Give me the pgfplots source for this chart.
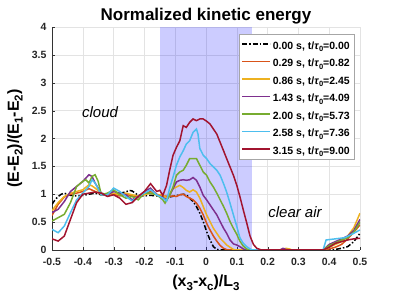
\documentclass[border=0pt]{standalone}
\usepackage{pgfplots}
\pgfplotsset{compat=1.18}
\usepackage{fontspec}
\setmainfont{Liberation Sans}
\definecolor{c1}{rgb}{0.85,0.325,0.098}
\definecolor{c2}{rgb}{0.929,0.694,0.125}
\definecolor{c3}{rgb}{0.494,0.184,0.556}
\definecolor{c4}{rgb}{0.466,0.674,0.188}
\definecolor{c5}{rgb}{0.301,0.745,0.933}
\definecolor{c6}{rgb}{0.635,0.078,0.184}
\newcommand\sub[1]{\raisebox{-0.45ex}{\fontsize{0.72em}{1em}\selectfont #1}}
\newcommand\ls{\rule[-5.5pt]{0pt}{17.5pt}}
\begin{document}
\begin{tikzpicture}
\useasboundingbox (-52pt,-49pt) rectangle (347pt,250pt);
\begin{axis}[
  at={(0pt,0pt)}, anchor=south west,
  scale only axis, width=308pt, height=223pt,
  xmin=-0.5, xmax=0.5, ymin=0, ymax=4,
  xtick={-0.5,-0.4,-0.3,-0.2,-0.1,0,0.1,0.2,0.3,0.4,0.5},
  xticklabels={-0.5,-0.4,-0.3,-0.2,-0.1,0,0.1,0.2,0.3,0.4,0.5},
  ytick={0,0.5,1,1.5,2,2.5,3,3.5,4},
  yticklabels={0,0.5,1,1.5,2,2.5,3,3.5,4},
  axis lines=left, axis line style={-, black!80},
  tick align=inside, major tick length=3pt, tick style={black!80},
  grid=major, grid style={gray!22, line width=0.4pt},
  tick label style={font=\bfseries\fontsize{10.5}{11}\selectfont, text=black!85},
  xticklabel style={yshift=-4.5pt},
  yticklabel style={xshift=-2pt},
  /pgf/number format/assume math mode=true,
  title={Normalized kinetic energy},
  title style={font=\bfseries\fontsize{17}{19}\selectfont, at={(0.5,1)}, anchor=base, yshift=0pt},
  xlabel={(x\sub{3}-x\sub{c})/L\sub{3}},
  ylabel={(E-E\sub{2})/(E\sub{1}-E\sub{2})},
  xlabel style={font=\bfseries\fontsize{16}{18}\selectfont, at={(axis description cs:0.5,-0.148)}, anchor=center},
  ylabel style={font=\bfseries\fontsize{16}{18}\selectfont, at={(axis description cs:-0.12,0.5)}, anchor=center},
  legend style={at={(rel axis cs:0.9805,0.9686)}, anchor=north east,
    font=\bfseries\fontsize{10.5}{11}\selectfont, draw=gray!70, fill=white,
    row sep=0pt, inner xsep=2pt, inner ysep=1pt,
    cells={anchor=west}},
  legend image code/.code={\draw[#1] (0pt,0pt) -- (28pt,0pt);},
  every axis plot/.append style={line width=1.5pt},
]
\fill[blue, fill opacity=0.2] (axis cs:-0.15,0) rectangle (axis cs:0.15,4);

\addplot[black, dash pattern=on 5pt off 2pt on 1.5pt off 2pt] coordinates {
(-0.5,0.82)(-0.49,0.9)(-0.48,0.96)(-0.47,1.0)(-0.46,1.02)(-0.45,1.0)(-0.44,0.98)(-0.42,0.97)(-0.40,0.98)(-0.38,1.0)(-0.36,1.02)(-0.34,0.99)(-0.32,0.98)(-0.30,1.0)(-0.28,1.02)(-0.26,1.04)(-0.25,1.07)(-0.24,1.06)(-0.22,0.98)(-0.20,0.97)(-0.18,0.98)(-0.16,0.97)(-0.14,0.96)(-0.12,0.95)(-0.10,0.97)(-0.085,0.99)(-0.074,1.0)(-0.064,0.99)(-0.053,0.93)(-0.042,0.87)(-0.031,0.78)(-0.02,0.66)(-0.009,0.51)(0.002,0.33)(0.013,0.18)(0.024,0.06)(0.035,0.01)(0.05,0)(0.1,0)(0.2,0)(0.3,0)(0.4,0)(0.42,0.01)(0.44,0.03)(0.46,0.06)(0.48,0.15)(0.5,0.3)};
\addlegendentry{\ls 0.00 s, t/\textit{τ}\sub{0}=0.00}

\addplot[c1] coordinates {
(-0.5,0.62)(-0.49,0.72)(-0.48,0.82)(-0.46,0.95)(-0.44,1.0)(-0.42,1.02)(-0.40,1.05)(-0.38,1.1)(-0.36,1.05)(-0.34,1.0)(-0.32,0.98)(-0.30,1.0)(-0.28,0.97)(-0.26,1.0)(-0.24,0.97)(-0.22,0.95)(-0.20,1.0)(-0.18,1.05)(-0.16,1.0)(-0.14,0.97)(-0.12,0.96)(-0.107,0.97)(-0.096,0.96)(-0.085,0.99)(-0.074,1.0)(-0.064,0.96)(-0.053,0.93)(-0.042,0.9)(-0.031,0.84)(-0.02,0.75)(-0.009,0.63)(0.002,0.48)(0.013,0.36)(0.024,0.25)(0.035,0.16)(0.046,0.08)(0.057,0.03)(0.07,0)(0.2,0)(0.3,0)(0.38,0)(0.40,0.02)(0.42,0.05)(0.44,0.1)(0.46,0.2)(0.48,0.32)(0.5,0.45)};
\addlegendentry{\ls 0.29 s, t/\textit{τ}\sub{0}=0.82}

\addplot[c2] coordinates {
(-0.5,0.7)(-0.49,0.78)(-0.48,0.85)(-0.46,0.96)(-0.44,1.02)(-0.42,1.05)(-0.40,1.08)(-0.38,1.17)(-0.37,1.15)(-0.36,1.11)(-0.34,1.02)(-0.32,0.99)(-0.30,1.02)(-0.28,0.99)(-0.26,1.02)(-0.24,0.99)(-0.22,0.97)(-0.20,0.99)(-0.18,1.02)(-0.16,0.99)(-0.14,0.99)(-0.128,0.93)(-0.118,1.01)(-0.107,1.1)(-0.096,1.13)(-0.085,1.16)(-0.074,1.12)(-0.064,1.07)(-0.053,1.04)(-0.042,1.08)(-0.031,1.04)(-0.02,0.93)(-0.009,0.78)(0.002,0.63)(0.013,0.51)(0.024,0.39)(0.035,0.3)(0.046,0.21)(0.057,0.15)(0.067,0.09)(0.078,0.05)(0.089,0.01)(0.1,0)(0.24,0)(0.26,0.03)(0.27,0.02)(0.28,0)(0.38,0)(0.40,0.05)(0.42,0.1)(0.44,0.15)(0.46,0.25)(0.48,0.4)(0.5,0.66)};
\addlegendentry{\ls 0.86 s, t/\textit{τ}\sub{0}=2.45}

\addplot[c3] coordinates {
(-0.5,0.67)(-0.48,0.73)(-0.46,0.87)(-0.44,1.05)(-0.42,1.14)(-0.40,1.23)(-0.38,1.35)(-0.37,1.32)(-0.36,1.2)(-0.34,1.02)(-0.32,0.99)(-0.30,1.05)(-0.28,1.02)(-0.26,0.99)(-0.24,0.9)(-0.22,0.96)(-0.20,1.05)(-0.18,1.11)(-0.16,0.99)(-0.14,0.94)(-0.128,0.9)(-0.118,0.98)(-0.107,1.1)(-0.096,1.22)(-0.085,1.25)(-0.074,1.26)(-0.064,1.25)(-0.053,1.26)(-0.042,1.3)(-0.031,1.25)(-0.02,1.13)(-0.009,0.98)(0.002,0.9)(0.013,0.81)(0.024,0.72)(0.035,0.63)(0.046,0.51)(0.057,0.39)(0.067,0.3)(0.078,0.18)(0.089,0.11)(0.1,0.09)(0.11,0.06)(0.121,0.02)(0.13,0)(0.24,0)(0.25,0.03)(0.26,0.01)(0.27,0)(0.38,0)(0.40,0.1)(0.42,0.15)(0.44,0.2)(0.46,0.25)(0.48,0.35)(0.5,0.55)};
\addlegendentry{\ls 1.43 s, t/\textit{τ}\sub{0}=4.09}

\addplot[c4] coordinates {
(-0.5,0.52)(-0.48,0.58)(-0.46,0.64)(-0.44,0.85)(-0.42,1.14)(-0.40,1.23)(-0.39,1.26)(-0.38,1.2)(-0.37,1.32)(-0.36,1.35)(-0.35,1.23)(-0.34,0.99)(-0.32,1.02)(-0.30,1.08)(-0.28,0.99)(-0.26,0.93)(-0.24,0.96)(-0.22,0.9)(-0.20,1.02)(-0.18,1.02)(-0.16,0.99)(-0.14,0.9)(-0.133,0.84)(-0.118,0.98)(-0.107,1.13)(-0.096,1.34)(-0.085,1.4)(-0.074,1.43)(-0.064,1.52)(-0.053,1.64)(-0.042,1.64)(-0.031,1.64)(-0.02,1.52)(-0.009,1.4)(0.002,1.34)(0.013,1.22)(0.024,1.13)(0.035,1.02)(0.046,0.9)(0.057,0.78)(0.067,0.66)(0.078,0.51)(0.089,0.39)(0.1,0.28)(0.11,0.16)(0.121,0.07)(0.132,0.02)(0.14,0)(0.38,0)(0.40,0.08)(0.42,0.13)(0.44,0.18)(0.46,0.22)(0.48,0.32)(0.5,0.5)};
\addlegendentry{\ls 2.00 s, t/\textit{τ}\sub{0}=5.73}

\addplot[c5] coordinates {
(-0.5,0.37)(-0.48,0.31)(-0.46,0.43)(-0.44,0.67)(-0.42,0.9)(-0.40,1.02)(-0.38,1.14)(-0.37,1.26)(-0.36,1.2)(-0.34,0.99)(-0.32,0.99)(-0.30,1.11)(-0.28,1.05)(-0.26,0.96)(-0.24,0.88)(-0.22,0.96)(-0.20,1.02)(-0.18,1.08)(-0.16,0.99)(-0.14,0.93)(-0.128,0.88)(-0.118,1.11)(-0.107,1.31)(-0.096,1.52)(-0.085,1.67)(-0.074,1.78)(-0.064,1.9)(-0.053,1.96)(-0.042,2.11)(-0.031,2.17)(-0.026,2.08)(-0.02,1.82)(-0.009,1.7)(0.002,1.64)(0.013,1.55)(0.024,1.49)(0.035,1.43)(0.046,1.34)(0.057,1.19)(0.067,1.04)(0.078,0.84)(0.089,0.63)(0.1,0.42)(0.11,0.22)(0.121,0.12)(0.132,0.06)(0.143,0.02)(0.15,0)(0.38,0)(0.39,0.18)(0.42,0.2)(0.45,0.22)(0.48,0.3)(0.5,0.36)};
\addlegendentry{\ls 2.58 s, t/\textit{τ}\sub{0}=7.36}

\addplot[c6] coordinates {
(-0.5,0.2)(-0.48,0.16)(-0.46,0.25)(-0.44,0.55)(-0.42,0.85)(-0.40,1.0)(-0.38,1.02)(-0.36,1.04)(-0.34,1.02)(-0.32,0.96)(-0.30,0.99)(-0.28,0.93)(-0.26,0.82)(-0.24,0.85)(-0.22,0.96)(-0.20,1.05)(-0.18,1.19)(-0.16,1.05)(-0.15,1.07)(-0.14,0.98)(-0.128,1.16)(-0.118,1.43)(-0.107,1.7)(-0.096,1.84)(-0.085,1.96)(-0.074,2.23)(-0.064,2.2)(-0.053,2.29)(-0.042,2.35)(-0.031,2.32)(-0.02,2.35)(-0.009,2.35)(0.002,2.31)(0.013,2.26)(0.024,2.17)(0.035,2.08)(0.046,1.93)(0.057,1.78)(0.067,1.64)(0.078,1.49)(0.089,1.34)(0.1,1.16)(0.11,0.96)(0.121,0.72)(0.132,0.49)(0.143,0.25)(0.154,0.1)(0.165,0.03)(0.18,0)(0.38,0)(0.40,0.05)(0.42,0.12)(0.44,0.15)(0.46,0.18)(0.48,0.2)(0.5,0.21)};
\addlegendentry{\ls 3.15 s, t/\textit{τ}\sub{0}=9.00}

\node[font=\itshape\fontsize{15}{17}\selectfont] at (axis cs:-0.344,2.48) {cloud};
\node[font=\itshape\fontsize{15}{17}\selectfont] at (axis cs:0.289,0.68) {clear air};
\end{axis}
\end{tikzpicture}
\end{document}
